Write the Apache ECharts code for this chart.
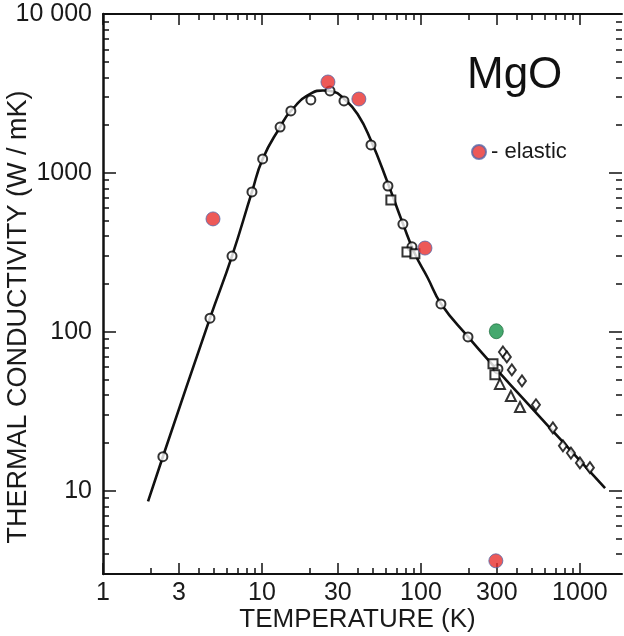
<!DOCTYPE html>
<html><head><meta charset="utf-8">
<script src="https://cdn.jsdelivr.net/npm/echarts@6/dist/echarts.min.js"></script>
<style>html,body{margin:0;padding:0;background:#fff}#c{width:624px;height:636px}</style>
</head><body><div id="c"></div>
<script>
// ---- tick labels / tick positions ----
const xMajorTicks = [1, 3, 10, 30, 100, 300, 1000];
const xMinorTicks = [2, 4, 5, 6, 7, 8, 9, 20, 40, 50, 60, 70, 80, 90, 200, 400, 500, 600, 700, 800, 900];
const yMajorTicks = [10, 100, 1000, 10000];
const yMinorTicks = [3, 4, 5, 6, 7, 8, 9, 20, 30, 40, 50, 60, 70, 80, 90, 200, 300, 400, 500, 600, 700, 800, 900,
                     2000, 3000, 4000, 5000, 6000, 7000, 8000, 9000];

// ---- fitted curve ----
const curveT = [1.92, 2.38, 4.71, 6.48, 8.65, 10.1, 13, 15.2, 20.5, 24.2, 28, 32.8, 40, 48.5, 62, 77, 91.6, 110, 134, 198, 300, 500, 800, 1000, 1440];
const curveK = [8.6, 16.4, 122, 300, 760, 1225, 1945, 2455, 3180, 3300, 3250, 2930, 2340, 1600, 860, 480, 310, 220, 150, 93, 58, 33, 19.8, 15.5, 10.4];

// ---- open circles ----
const circleT = [2.38, 4.71, 6.48, 8.65, 10.1, 13, 15.2, 20.3, 26.8, 32.8, 48.5, 62, 77, 87.8, 133.6, 197.7, 305];
const circleK = [16.4, 122, 300, 760, 1225, 1945, 2455, 2880, 3280, 2840, 1500, 828, 477, 343, 150, 93, 58.5];

// ---- open squares ----
const squareT = [64.7, 81.7, 91.6, 284, 292];
const squareK = [676, 318, 310, 63, 53.7];

// ---- open triangles ----
const triangleT = [314, 368, 420];
const triangleK = [47.1, 39.5, 33.7];

// ---- open diamonds ----
const diamondT = [328, 347, 373, 432, 529, 676, 782, 878, 1000, 1156];
const diamondK = [74.8, 69.6, 57.7, 49.2, 34.8, 24.9, 19.2, 17.3, 15, 14];

// ---- elastic (red) ----
const elasticT = [4.92, 26, 40.7, 106, 296];
const elasticK = [514, 3735, 2918, 337, 3.63];

// ---- green point ----
const greenT = [298];
const greenK = [101];

const zip = (a, b) => a.map((v, i) => [v, b[i]]);
const FONT = "'Liberation Sans', Arial, sans-serif";
const X_MIN = 1, X_MAX = 1840, Y_MIN = 3, Y_MAX = 10000;

function xAxisDef(pos, major, withLabel) {
  return {
    type: 'log', position: pos, min: X_MIN, max: X_MAX,
    axisLine: { show: major, lineStyle: { color: '#111', width: 2 } },
    axisTick: { show: true, inside: true, length: major ? 11 : 6,
      customValues: major ? xMajorTicks : xMinorTicks,
      lineStyle: { color: '#111', width: 1.5 } },
    axisLabel: withLabel ? { show: true, customValues: xMajorTicks, margin: 7,
      fontSize: 25, fontFamily: FONT, color: '#1a1a1a', formatter: v => String(Math.round(v)) } : { show: false },
    splitLine: { show: false },
    name: withLabel ? 'TEMPERATURE (K)' : '',
    nameLocation: 'middle', nameGap: 33, nameMoveOverlap: false,
    nameTextStyle: { fontSize: 26, fontFamily: FONT, color: '#1a1a1a', padding: [0, 10, 0, 0] }
  };
}
function yAxisDef(pos, major, withLabel) {
  return {
    type: 'log', position: pos, min: Y_MIN, max: Y_MAX,
    axisLine: { show: major && pos === 'left', lineStyle: { color: '#111', width: 2.5 } },
    axisTick: { show: true, inside: true, length: major ? 13 : 6,
      customValues: major ? yMajorTicks : yMinorTicks,
      lineStyle: { color: '#111', width: 1.5 } },
    axisLabel: withLabel ? { show: true, customValues: yMajorTicks, margin: 11,
      fontSize: 25, fontFamily: FONT, color: '#1a1a1a',
      formatter: v => { v = Math.round(v); return v === 10000 ? '10 000' : String(v); } } : { show: false },
    splitLine: { show: false },
    name: withLabel ? 'THERMAL CONDUCTIVITY (W / mK)' : '',
    nameLocation: 'middle', nameGap: 71, nameRotate: 90, nameMoveOverlap: false,
    nameTextStyle: { fontSize: 27, fontFamily: FONT, color: '#1a1a1a', padding: [0, 46, 0, 0] }
  };
}

const openStyle = { color: '#fff', borderColor: '#000', borderWidth: 2 };

const chart = echarts.init(document.getElementById('c'), null, { renderer: 'canvas' });
chart.setOption({
  animation: false,
  backgroundColor: '#fff',
  title: { text: 'MgO', left: 467, top: 54, padding: 0,
    textStyle: { fontSize: 44, fontWeight: 'normal', fontFamily: FONT, color: '#111' } },
  legend: { data: ['elastic'], left: 471, top: 141, itemWidth: 14, itemHeight: 14, itemGap: 5,
    icon: 'circle', formatter: '- elastic', padding: 0,
    textStyle: { fontSize: 22, fontFamily: FONT, color: '#1a1a1a' } },
  grid: { left: 103, right: 2, top: 14, bottom: 62, containLabel: false, outerBoundsMode: 'none' },
  xAxis: [xAxisDef('bottom', true, true), xAxisDef('bottom', false, false),
          xAxisDef('top', true, false), xAxisDef('top', false, false)],
  yAxis: [yAxisDef('left', true, true), yAxisDef('left', false, false),
          yAxisDef('right', true, false), yAxisDef('right', false, false)],
  series: [
    { name: 'curve', type: 'line', data: zip(curveT, curveK), smooth: 0.5, showSymbol: false,
      lineStyle: { color: '#111', width: 2.6 }, z: 2 },
    { name: 'circles', type: 'scatter', data: zip(circleT, circleK), symbol: 'circle', symbolSize: 9,
      itemStyle: openStyle, z: 3 },
    { name: 'squares', type: 'scatter', data: zip(squareT, squareK), symbol: 'rect', symbolSize: 9,
      itemStyle: openStyle, z: 3 },
    { name: 'triangles', type: 'scatter', data: zip(triangleT, triangleK), symbol: 'triangle', symbolSize: 10,
      itemStyle: openStyle, z: 3 },
    { name: 'diamonds', type: 'scatter', data: zip(diamondT, diamondK), symbol: 'diamond', symbolSize: [8, 11],
      itemStyle: openStyle, z: 3 },
    { name: 'elastic', type: 'scatter', data: zip(elasticT, elasticK), symbol: 'circle', symbolSize: 14,
      itemStyle: { color: '#e8302e', borderColor: '#5566a8', borderWidth: 1 }, z: 4 },
    { name: 'green', type: 'scatter', data: zip(greenT, greenK), symbol: 'circle', symbolSize: [14, 15],
      itemStyle: { color: '#16924a', borderColor: '#0d5e2e', borderWidth: 0.8 }, z: 4 }
  ]
});
</script></body></html>
